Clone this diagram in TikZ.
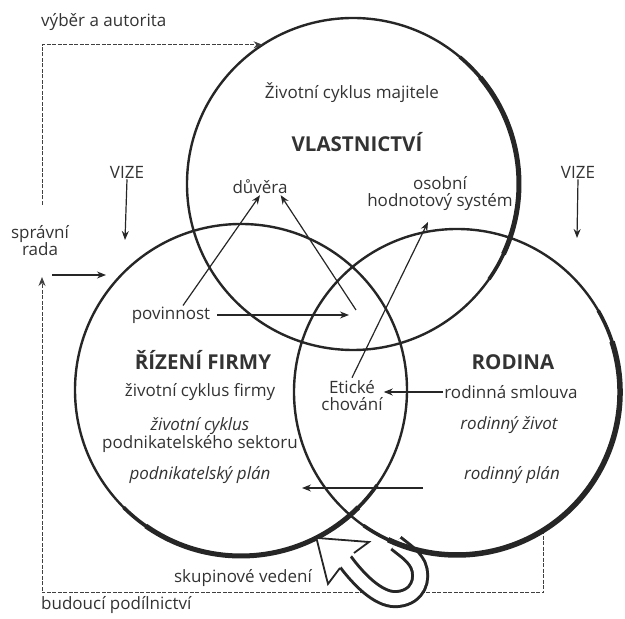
\documentclass[tikz,border=0pt]{standalone}
\usepackage{fontspec}
\setmainfont{Open Sans}
\usetikzlibrary{arrows.meta}
\begin{document}
\begin{tikzpicture}[x=1pt,y=1pt,
    ring/.style={circle,draw=black!85,line width=2.4pt,inner sep=0pt,outer sep=0pt,minimum size=#1},
    txt/.style={font=\fontsize{17}{17}\selectfont,text=black!80,inner sep=1pt,align=center},
    big/.style={font=\fontsize{20.5}{22}\selectfont\bfseries,text=black!80,inner sep=1pt},
    arr/.style={draw=black!85,line width=1.2pt,-{Stealth[length=9pt,width=7pt]}},
    trail/.style={draw=black!75,line width=1pt,dash pattern=on 4pt off 1.5pt}]
  \useasboundingbox (0,0) rectangle (625,619);
  %
  \node[ring=332pt] (own)  at (353,435) {};
  \node[ring=332pt] (firm) at (241,229) {};
  \node[ring=326pt] (rod)  at (457,227) {};
  %
  \coordinate (cnrA)   at (42,414);
  \coordinate (cnrB)   at (42,26);
  \coordinate (radaup) at (42,342);
  \draw[trail,-{Stealth[length=9pt,width=7pt]}] (cnrA) |- (own.123);
  \draw[trail,-{Stealth[length=9pt,width=7pt]}] (rod.-58) |- (cnrB) -- (radaup);
  %
  % skupinove vedeni
  \foreach \w/\c in {18pt/black!85,12pt/white}
    \draw[line width=\w,\c] (342,62) .. controls (362,34) and (382,18) .. (398,20)
      .. controls (418,22) and (424,40) .. (418,54) .. controls (413,64) and (403,70) .. (rod.248);
  \foreach \a/\b/\w in {50/-35/3.6pt,40/-25/5pt}
    \draw[line width=\w,black!85] (own) ++(\a:166) arc[start angle=\a,end angle=\b,radius=166];
  \foreach \a/\b/\w in {-35/-135/3.6pt,-45/-125/5pt}
    \draw[line width=\w,black!85] (firm) ++(\a:166) arc[start angle=\a,end angle=\b,radius=166];
  \foreach \a/\b/\w in {30/-125/3.6pt,18/-115/5.5pt}
    \draw[line width=\w,black!85] (rod) ++(\a:163) arc[start angle=\a,end angle=\b,radius=163];
  \fill[white] (firm.-63) -- (369,77) -- (354,66) -- (340,51) -- (328,35) -- cycle;
  \draw[line width=1.8pt,black!85,line join=miter] (354,66) -- (369,77) -- (firm.-63) -- (328,35) -- (340,51);
  %
  \node[txt,anchor=west] (vyber)   at (40,597) {výběr a autorita};
  \node[txt,anchor=west] (budouci) at (40,14)  {budoucí podílnictví};
  \node[txt] (sprava)  at (40,378)  {správní\\rada};
  \node[txt] (vize1)   at (127,447) {VIZE};
  \node[txt] (vize2)   at (578,447) {VIZE};
  \node[txt] (cyklmaj) at (352,526) {Životní cyklus majitele};
  \node[big] (vlast)   at (357,477) {VLASTNICTVÍ};
  \node[txt] (duvera)  at (260,432) {důvěra};
  \node[txt] (osobni)  at (440,425) {osobní\\hodnotový systém};
  \node[txt] (povin)   at (171,304) {povinnost};
  \node[big] (rizeni)  at (203,259) {ŘÍZENÍ FIRMY};
  \node[txt] (cyklfir) at (200,227) {životní cyklus firmy};
  \node[txt] (cyklsek) at (200,184) {\itshape životní cyklus\\podnikatelského sektoru};
  \node[txt] (podplan) at (200,144) {\itshape podnikatelský plán};
  \node[txt] (eticke)  at (352,223) {Etické\\chování};
  \node[big] (rodina)  at (513,257) {RODINA};
  \node[txt] (smlouva) at (511,227) {rodinná smlouva};
  \node[txt] (zivot)   at (509,194) {\itshape rodinný život};
  \node[txt] (rodplan) at (512,144) {\itshape rodinný plán};
  \node[txt] (skup)    at (243,41)  {skupinové vedení};
  %
  \coordinate (vizeL)     at (125,379);
  \coordinate (vizeR)     at (577,381);
  \coordinate (radastart) at (52,344);
  \coordinate (radaend)   at (106,344);
  \coordinate (povend)    at (349,304);
  \coordinate (stred)     at (356,309);
  \coordinate (hodtip)    at (428,397);
  \coordinate (plstart)   at (423,131);
  \coordinate (plantip)   at (302,131);
  \draw[arr] (vize1.south) -- (vizeL);
  \draw[arr] (vize2.south) -- (vizeR);
  \draw[arr] (radastart) -- (radaend);
  \draw[arr] ([xshift=12pt]povin.north) -- (duvera.south);
  \draw[arr] ([xshift=6pt]povin.east) -- (povend);
  \draw[arr] (stred) -- ([xshift=-8pt]duvera.south east);
  \draw[arr] ([yshift=2pt]eticke.north) -- (hodtip);
  \draw[arr] (smlouva.west) -- (smlouva.west -| eticke.east);
  \draw[arr] (plstart) -- (plantip);
\end{tikzpicture}
\end{document}
